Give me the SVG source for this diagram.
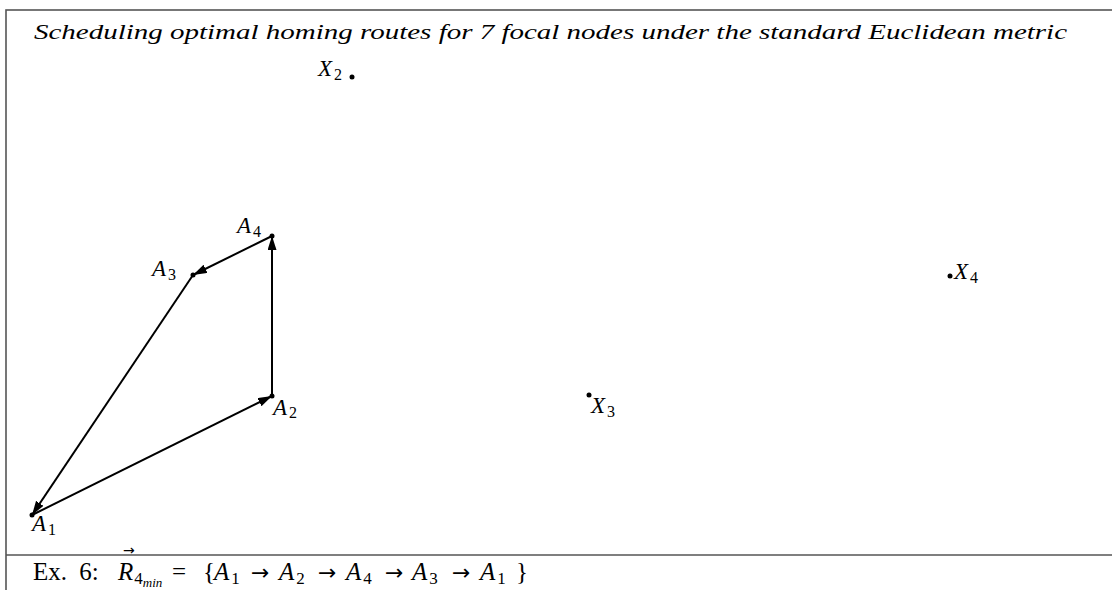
<svg xmlns="http://www.w3.org/2000/svg" width="1112" height="590" viewBox="0 0 1112 590">
<style>
.frame{fill:none;stroke:#555;stroke-width:1.6}
.edge{stroke:#000;stroke-width:2;fill:none;marker-end:url(#ah)}
.dot{fill:#000}
.m{font-family:"Liberation Serif",serif;font-style:italic;font-size:23px;fill:#000}
.s{font-size:16px;font-style:normal}
.r{font-family:"Liberation Serif",serif;font-size:25px;fill:#000}
.ri{font-style:italic;font-size:25px}
.ar{font-family:"DejaVu Sans",sans-serif;font-size:22px}
.sb{font-size:17px;font-style:normal}
</style>
<defs>
<marker id="ah" markerUnits="userSpaceOnUse" markerWidth="16" markerHeight="10" refX="14" refY="4.5" orient="auto">
<path d="M0,0 L14,4.5 L0,9 z" fill="#000"/>
</marker>
</defs>
<rect class="frame" x="6" y="10" width="1120" height="600"/>
<line class="frame" x1="6" y1="555" x2="1112" y2="555"/>
<text id="title" class="m" x="34" y="39" style="font-size:21px" textLength="1033" lengthAdjust="spacingAndGlyphs">Scheduling optimal homing routes for 7 focal nodes under the standard Euclidean metric</text>
<g id="connectors">
<line class="edge" x1="32" y1="515" x2="272" y2="396"/>
<line class="edge" x1="272" y1="396" x2="272" y2="236"/>
<line class="edge" x1="272" y1="236" x2="193" y2="275"/>
<line class="edge" x1="193" y1="275" x2="32" y2="515"/>
</g>
<g id="A1"><circle class="dot" cx="32" cy="515" r="2.5"/><text class="m" x="32" y="531">A<tspan class="s" dx="2" dy="4">1</tspan></text></g>
<g id="A2"><circle class="dot" cx="272" cy="396" r="2.5"/><text class="m" x="273" y="415">A<tspan class="s" dx="2" dy="3">2</tspan></text></g>
<g id="A3"><circle class="dot" cx="193" cy="275" r="2.5"/><text class="m" x="152" y="276">A<tspan class="s" dx="2" dy="4">3</tspan></text></g>
<g id="A4"><circle class="dot" cx="272" cy="236" r="2.5"/><text class="m" x="237" y="233">A<tspan class="s" dx="2" dy="4">4</tspan></text></g>
<g id="X2"><circle class="dot" cx="352" cy="77" r="2.5"/><text class="m" x="318" y="76">X<tspan class="s" dx="2" dy="4">2</tspan></text></g>
<g id="X3"><circle class="dot" cx="589" cy="395" r="2.5"/><text class="m" x="591" y="413">X<tspan class="s" dx="2" dy="4">3</tspan></text></g>
<g id="X4"><circle class="dot" cx="950" cy="276" r="2.5"/><text class="m" x="954" y="279">X<tspan class="s" dx="2" dy="4">4</tspan></text></g>
<g id="caption">
<text class="r" y="580"><tspan x="33" word-spacing="6">Ex. 6:</tspan><tspan x="118" class="ri">R</tspan><tspan class="sb" dx="1" dy="4">4</tspan><tspan dy="3" class="ri" style="font-size:13px">min</tspan><tspan x="172" dy="-7">=</tspan><tspan x="203">{</tspan><tspan x="214" class="ri">A</tspan><tspan class="sb" dx="2" dy="4">1</tspan><tspan x="251" dy="-4" class="ar">→</tspan><tspan x="279" class="ri">A</tspan><tspan class="sb" dx="2" dy="4">2</tspan><tspan x="318" dy="-4" class="ar">→</tspan><tspan x="346" class="ri">A</tspan><tspan class="sb" dx="2" dy="4">4</tspan><tspan x="385" dy="-4" class="ar">→</tspan><tspan x="412" class="ri">A</tspan><tspan class="sb" dx="2" dy="4">3</tspan><tspan x="452" dy="-4" class="ar">→</tspan><tspan x="480" class="ri">A</tspan><tspan class="sb" dx="2" dy="4">1</tspan><tspan x="516" dy="-4">}</tspan></text>
<text class="ar" x="123" y="555" style="font-size:14px">→</text>
</g>
</svg>
